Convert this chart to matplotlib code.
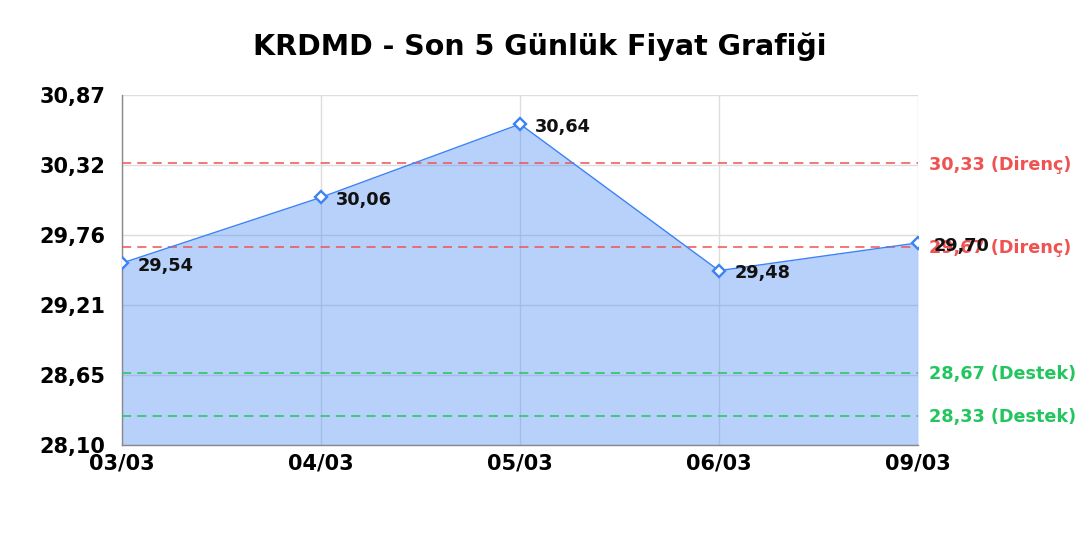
import numpy as np
import matplotlib
matplotlib.use("Agg")
import matplotlib.pyplot as plt
from matplotlib.ticker import FuncFormatter

# data
dates = ['03/03', '04/03', '05/03', '06/03', '09/03']
prices = [29.54, 30.06, 30.64, 29.48, 29.70]
resistance = [30.33, 29.67]
support = [28.67, 28.33]
y_min, y_max = 28.10, 30.87

plt.rcParams['font.family'] = ['DejaVu Sans']

fig = plt.figure(figsize=(10.8, 5.4), dpi=100)
ax = fig.add_axes([0.113, 0.176, 0.737, 0.648])

x = np.arange(len(dates))
ax.fill_between(x, prices, y_min, color='#3b82f6', alpha=0.36, linewidth=0, zorder=1)
ax.plot(x, prices, color='#3b82f6', linewidth=1, zorder=4)
ax.plot(x, prices, linestyle='none', marker='D', markersize=6.5, markerfacecolor='white',
        markeredgecolor='#3b82f6', markeredgewidth=1.7, zorder=5)

for xi, p in zip(x, prices):
    ax.annotate(f'{p:.2f}'.replace('.', ','), (xi, p), xytext=(11, -2), textcoords='offset points',
                ha='left', va='center', fontsize=12.8, fontweight='bold', color='#111111', zorder=6)

for lvl in resistance:
    ax.axhline(lvl, color='#f05252', linestyle=(0, (6, 4)), linewidth=1.1, zorder=3)
    ax.annotate(f'{lvl:.2f}'.replace('.', ',') + ' (Direnç)', (1, lvl), xycoords=('axes fraction', 'data'),
                xytext=(8, -1), textcoords='offset points', ha='left', va='center',
                fontsize=12.7, fontweight='bold', color='#f05252')
for lvl in support:
    ax.axhline(lvl, color='#22c55e', linestyle=(0, (6, 4)), linewidth=1.1, zorder=3)
    ax.annotate(f'{lvl:.2f}'.replace('.', ',') + ' (Destek)', (1, lvl), xycoords=('axes fraction', 'data'),
                xytext=(8, -1), textcoords='offset points', ha='left', va='center',
                fontsize=12.7, fontweight='bold', color='#22c55e')

ax.set_xlim(0, len(dates) - 1)
ax.set_ylim(y_min, y_max)
ax.set_xticks(x)
ax.set_xticklabels(dates)
ax.set_yticks(np.linspace(y_min, y_max, 6))
ax.yaxis.set_major_formatter(FuncFormatter(lambda v, pos: f'{v:.2f}'.replace('.', ',')))
ax.tick_params(axis='both', length=0, labelsize=15)
ax.tick_params(axis='y', pad=12)
ax.tick_params(axis='x', pad=6)
for lab in ax.get_xticklabels() + ax.get_yticklabels():
    lab.set_fontweight('bold')

ax.set_axisbelow(True)
ax.grid(True, color='#dddddd', linewidth=1, zorder=0.5)
for s in ['top', 'right']:
    ax.spines[s].set_visible(False)
for s in ['left', 'bottom']:
    ax.spines[s].set_color('#888888')
    ax.spines[s].set_linewidth(1)

fig.suptitle('KRDMD - Son 5 Günlük Fiyat Grafiği', y=0.94, fontsize=20.5, fontweight='bold')

fig.savefig('out.png', dpi=100)
